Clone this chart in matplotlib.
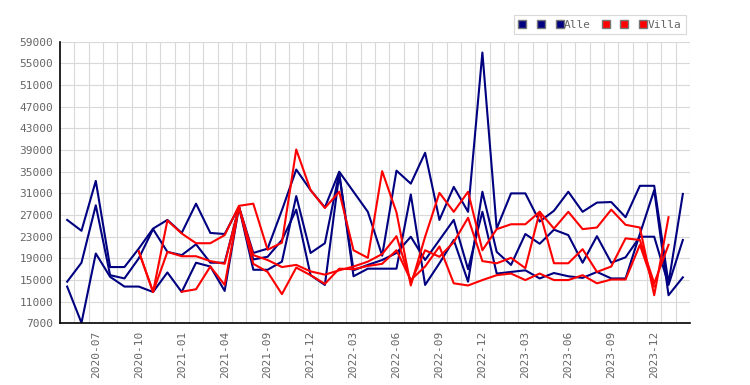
import numpy as np
import matplotlib
matplotlib.use("Agg")
import matplotlib.pyplot as plt
from matplotlib.lines import Line2D

nan = np.nan

# months on the x axis (some months missing in 2021)
months = ["2020-05", "2020-06", "2020-07", "2020-08", "2020-09", "2020-10",
          "2020-11", "2020-12", "2021-01", "2021-02", "2021-03", "2021-04",
          "2021-06", "2021-08", "2021-09", "2021-10", "2021-11", "2021-12",
          "2022-01", "2022-02", "2022-03", "2022-04", "2022-05", "2022-06",
          "2022-07", "2022-08", "2022-09", "2022-10", "2022-11", "2022-12",
          "2023-01", "2023-02", "2023-03", "2023-04", "2023-05", "2023-06",
          "2023-07", "2023-08", "2023-09", "2023-10", "2023-11", "2023-12",
          "2024-01", "2024-02"]

# Alle (navy)
alle_1 = [26100, 24100, 33300, 17400, 17400, 20800, 24500, 26100, 23700, 29100,
          23700, 23500, 28500, 20000, 20800, 27900, 35400, 31600, 28400, 35000,
          31300, 27600, 19500, 35200, 32800, 38500, 26100, 32200, 27600, 57000,
          24500, 31000, 31000, 25800, 27800, 31300, 27600, 29300, 29400, 26600,
          32400, 32400, 14400, 30900]
alle_2 = [14700, 18200, 28800, 15900, 15300, 19000, 24400, 20200, 19600, 21600,
          18200, 18200, 28500, 16900, 16900, 18400, 30500, 20000, 21800, 34800,
          15700, 17100, 17100, 17100, 30800, 14100, 18100, 22400, 14700, 31300,
          20200, 17800, 23500, 21700, 24300, 23300, 18200, 23100, 18200, 19200,
          23000, 23000, 14100, 22400]
alle_3 = [13800, 7100, 19900, 15600, 13800, 13800, 12800, 16400, 12800, 18200,
          17500, 13000, 28500, 18800, 19300, 22400, 28000, 15900, 14100, 34500,
          16800, 17800, 18700, 20000, 23000, 18700, 22400, 26100, 17000, 27600,
          16200, 16500, 16800, 15300, 16300, 15700, 15400, 16500, 15300, 15300,
          23500, 31600, 12200, 15500]

# Villa (red)
villa_1 = [nan, nan, nan, nan, nan, 20300, 12800, 26000, 23600, 21800,
           21800, 23300, 28700, 29100, 20600, 21900, 39100, 31600, 28300, 31300,
           20500, 19100, 35100, 27500, 14000, 23000, 31100, 27600, 31300, 20500,
           24400, 25300, 25300, 27600, 24500, 27600, 24400, 24700, 28000, 25200,
           24700, 12200, 26600, nan]
villa_2 = [nan, nan, nan, nan, nan, 20300, 12800, 20200, 19400, 19400,
           18500, 18000, 28500, 19600, 18700, 17400, 17800, 16600, 16000, 16800,
           17500, 18400, 19800, 23100, 14600, 20500, 19300, 22000, 26500, 18500,
           18100, 19100, 17200, 27600, 18100, 18100, 20700, 16500, 17500, 22700,
           22400, 14400, 21500, nan]
villa_3 = [nan, nan, nan, nan, nan, nan, nan, nan, 12850, 13300,
           17500, 14100, 28500, 18000, 16500, 12400, 17300, 15900, 14300, 17100,
           17000, 17600, 18000, 20500, 15000, 17500, 21200, 14400, 14000, 15000,
           15900, 16200, 15000, 16200, 15000, 15000, 15900, 14400, 15100, 15100,
           21500, 13800, nan, nan]

navy = "#000080"
red = "#ff0000"
grey_text = "#666666"

fig = plt.figure(figsize=(7.5, 3.85), dpi=100)
ax = fig.add_axes([0.08, 0.16, 0.84, 0.7317])

x = np.arange(len(months))
for s in [alle_1, alle_2, alle_3]:
    ax.plot(x, s, color=navy, lw=1.5)
for s in [villa_1, villa_2, villa_3]:
    ax.plot(x, s, color=red, lw=1.5)

ax.set_xlim(-0.5, len(months) - 0.5)
ax.set_ylim(7000, 59000)
ax.set_yticks(np.arange(7000, 59001, 4000))
ax.set_xticks(np.arange(0.5, len(months), 1.0), minor=True)
ax.set_xticks(range(2, len(months), 3))
ax.set_xticklabels(months[2::3], rotation=90)

ax.grid(True, which="minor", axis="x", color="#d9d9d9", lw=0.8)
ax.grid(True, which="major", axis="y", color="#d9d9d9", lw=0.8)
ax.set_axisbelow(True)
ax.tick_params(which="both", length=0)
ax.tick_params(axis="both", labelsize=8, colors=grey_text, pad=5)
for lab in ax.get_xticklabels() + ax.get_yticklabels():
    lab.set_family("DejaVu Sans Mono")

for side in ["top", "right"]:
    ax.spines[side].set_visible(False)
for side in ["left", "bottom"]:
    ax.spines[side].set_color("black")
    ax.spines[side].set_linewidth(1.2)

handles = []
labels = []
for col, lab in [(navy, ""), (navy, ""), (navy, "Alle"), (red, ""), (red, ""), (red, "Villa")]:
    handles.append(Line2D([], [], ls="none", marker="s", markersize=5.5,
                          markerfacecolor=col, markeredgecolor="#777777"))
    labels.append(lab)
leg = fig.legend(handles, labels, ncol=6, loc="upper right",
                 bbox_to_anchor=(0.922, 0.975), frameon=True, fancybox=False,
                 handlelength=0.6, handletextpad=0.1, columnspacing=1.0,
                 borderpad=0.4, prop={"family": "DejaVu Sans Mono", "size": 8})
leg.get_frame().set_edgecolor("#d0d0d0")
leg.get_frame().set_linewidth(0.8)
for t in leg.get_texts():
    t.set_color(grey_text)

fig.savefig("out.png", dpi=100)
